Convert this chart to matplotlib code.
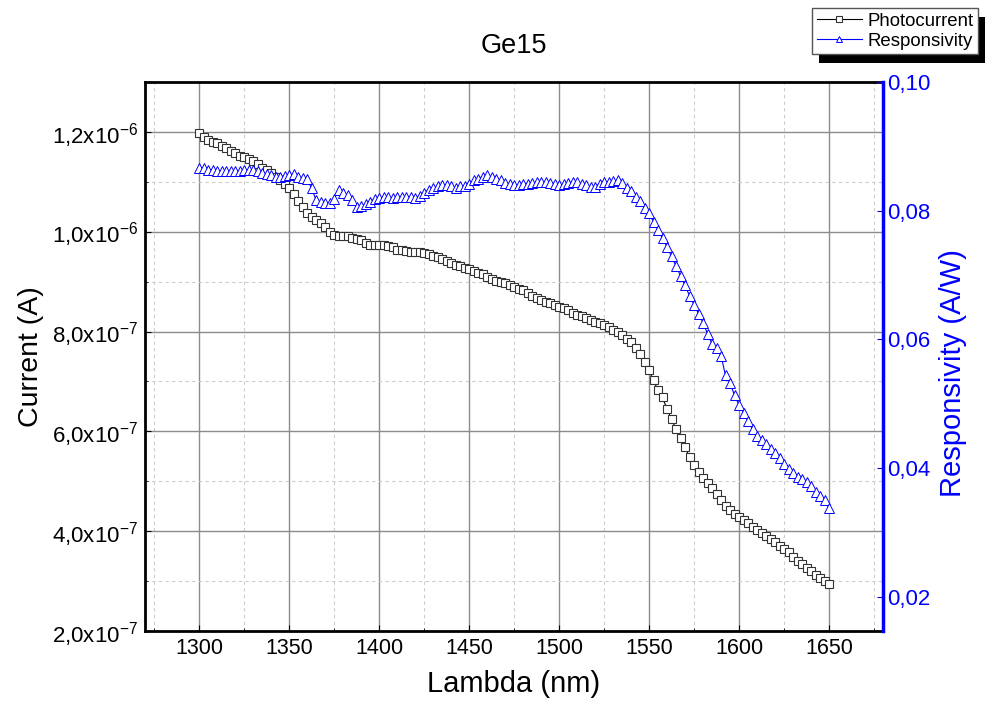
import numpy as np
import matplotlib
matplotlib.use("Agg")
import matplotlib.pyplot as plt
from matplotlib.ticker import MultipleLocator, FuncFormatter
from matplotlib.patches import Rectangle

plt.rcParams['font.family'] = ['Liberation Sans', 'DejaVu Sans']
plt.rcParams['mathtext.fontset'] = 'custom'
plt.rcParams['mathtext.rm'] = 'Liberation Sans'
plt.rcParams['mathtext.it'] = 'Liberation Sans:italic'

title = "Ge15"
xlabel = "Lambda (nm)"
ylabel_left = "Current (A)"
ylabel_right = "Responsivity (A/W)"
series_names = ["Photocurrent", "Responsivity"]

# wavelength grid (nm), 2.5 nm sampling
wavelength = np.arange(1300.0, 1650.0 + 1e-9, 2.5)

# photocurrent in units of 1e-7 A
photocurrent_e7 = [
    11.97, 11.89, 11.83, 11.80, 11.77, 11.72, 11.68, 11.61, 11.57, 11.51,
    11.49, 11.45, 11.41, 11.36, 11.28, 11.23, 11.18, 11.10, 11.03, 10.96,
    10.87, 10.76, 10.62, 10.49, 10.38, 10.29, 10.23, 10.17, 10.09, 9.99,
    9.93, 9.92, 9.92, 9.91, 9.88, 9.85, 9.83, 9.78, 9.74, 9.74,
    9.74, 9.74, 9.71, 9.69, 9.64, 9.63, 9.61, 9.60, 9.59, 9.59,
    9.58, 9.55, 9.52, 9.49, 9.46, 9.42, 9.38, 9.34, 9.31, 9.28,
    9.25, 9.22, 9.18, 9.15, 9.10, 9.05, 9.01, 8.99, 8.97, 8.93,
    8.90, 8.86, 8.83, 8.78, 8.72, 8.68, 8.64, 8.60, 8.57, 8.53,
    8.49, 8.47, 8.43, 8.38, 8.34, 8.31, 8.27, 8.23, 8.20, 8.17,
    8.13, 8.10, 8.04, 7.99, 7.93, 7.86, 7.79, 7.67, 7.56, 7.38,
    7.22, 7.02, 6.82, 6.68, 6.45, 6.24, 6.05, 5.87, 5.68, 5.49,
    5.33, 5.18, 5.07, 4.97, 4.86, 4.74, 4.63, 4.51, 4.42, 4.35,
    4.29, 4.23, 4.16, 4.09, 4.02, 3.96, 3.91, 3.85, 3.79, 3.71,
    3.64, 3.58, 3.48, 3.41, 3.34, 3.27, 3.20, 3.13, 3.07, 3.01,
    2.95,
]

# responsivity in A/W
responsivity = [
    0.0867, 0.0866, 0.0864, 0.0863, 0.0862, 0.0862, 0.0861, 0.0861, 0.0862, 0.0862,
    0.0863, 0.0864, 0.0863, 0.0861, 0.0859, 0.0857, 0.0856, 0.0853, 0.0853, 0.0854,
    0.0856, 0.0857, 0.0853, 0.0851, 0.0849, 0.0835, 0.0817, 0.0813, 0.0812, 0.0812,
    0.0818, 0.0832, 0.0828, 0.0824, 0.0816, 0.0806, 0.0807, 0.0810, 0.0814, 0.0818,
    0.0820, 0.0821, 0.0821, 0.0820, 0.0821, 0.0822, 0.0822, 0.0821, 0.0819, 0.0823,
    0.0828, 0.0832, 0.0835, 0.0838, 0.0840, 0.0840, 0.0838, 0.0836, 0.0838, 0.0838,
    0.0842, 0.0847, 0.0850, 0.0853, 0.0855, 0.0852, 0.0850, 0.0847, 0.0843, 0.0841,
    0.0840, 0.0840, 0.0841, 0.0842, 0.0843, 0.0844, 0.0845, 0.0844, 0.0843, 0.0842,
    0.0840, 0.0841, 0.0843, 0.0845, 0.0844, 0.0842, 0.0840, 0.0837, 0.0837, 0.0842,
    0.0844, 0.0845, 0.0846, 0.0847, 0.0843, 0.0835, 0.0830, 0.0822, 0.0815, 0.0805,
    0.0796, 0.0783, 0.0770, 0.0757, 0.0744, 0.0729, 0.0714, 0.0699, 0.0684, 0.0668,
    0.0654, 0.0640, 0.0626, 0.0609, 0.0593, 0.0586, 0.0575, 0.0544, 0.0533, 0.0513,
    0.0498, 0.0486, 0.0473, 0.0461, 0.0450, 0.0443, 0.0437, 0.0430, 0.0424, 0.0416,
    0.0407, 0.0399, 0.0393, 0.0386, 0.0383, 0.0379, 0.0372, 0.0363, 0.0357, 0.0350,
    0.0338,
]

x_ticks = [1300, 1350, 1400, 1450, 1500, 1550, 1600, 1650]
left_ticks = [2e-7, 4e-7, 6e-7, 8e-7, 1.0e-6, 1.2e-6]
right_ticks = [0.02, 0.04, 0.06, 0.08, 0.10]

photocurrent = np.array(photocurrent_e7) * 1e-7
n = min(len(wavelength), len(photocurrent), len(responsivity))

fig = plt.figure(figsize=(9.85, 7.01), dpi=100)
ax = fig.add_axes([145/985, 70/701, 738/985, 549/701])
ax2 = ax.twinx()

BLUE = '#0000ff'

l1, = ax.plot(wavelength[:n], photocurrent[:n], color='black', lw=0.8,
              marker='s', ms=5.5, mfc='white', mec='#333333', mew=0.8, zorder=3)
l2, = ax2.plot(wavelength[:n], np.array(responsivity)[:n], color=BLUE, lw=0.8,
               marker='^', ms=6.5, mfc='white', mec=BLUE, mew=0.7, zorder=3)

ax.set_xlim(1270, 1680)
ax.set_ylim(2e-7, 1.3e-6)
ax2.set_ylim(0.0147, 0.10)

ax.set_xticks(x_ticks)
ax.xaxis.set_minor_locator(MultipleLocator(25))
ax.set_yticks(left_ticks)
ax.yaxis.set_minor_locator(MultipleLocator(1e-7))
ax2.set_yticks(right_ticks)


def sci_fmt(v, pos):
    if v == 0:
        return "0"
    e = int(np.floor(np.log10(abs(v)) + 1e-9))
    m = v / 10**e
    return ("%.1f" % m).replace('.', ',') + "x10$^{%d}$" % e


ax.yaxis.set_major_formatter(FuncFormatter(sci_fmt))
ax2.yaxis.set_major_formatter(FuncFormatter(lambda v, p: ("%.2f" % v).replace('.', ',')))

ax.grid(which='major', color='#8c8c8c', lw=1.0, ls='-')
ax.grid(which='minor', color='#cccccc', lw=0.8, ls=(0, (3, 3)))
ax.set_axisbelow(True)

ax.tick_params(axis='both', which='major', direction='in', length=4, labelsize=16, pad=5)
ax.tick_params(axis='x', which='major', labelsize=15.5, pad=5)
ax.tick_params(axis='both', which='minor', direction='in', length=2)
ax2.tick_params(axis='y', which='major', direction='in', length=4, labelsize=16,
                colors=BLUE, pad=3)

for s in ['left', 'top', 'bottom']:
    ax.spines[s].set_linewidth(2)
    ax.spines[s].set_color('black')
ax2.spines['right'].set_linewidth(2.5)
ax2.spines['right'].set_color(BLUE)
for s in ['left', 'top', 'bottom']:
    ax2.spines[s].set_visible(False)
ax.spines['right'].set_visible(False)

ax.set_xlabel(xlabel, fontsize=21, labelpad=8)
ax.set_ylabel(ylabel_left, fontsize=20.5, labelpad=6)
ax2.set_ylabel(ylabel_right, fontsize=21, color=BLUE, labelpad=6)
ax2.yaxis.label.set_y(0.5 - 17/549)
ax.set_title(title, fontsize=19.5, pad=21)

leg = fig.legend([l1, l2], series_names, loc='upper right',
                 bbox_to_anchor=(978/985, 1 - 8/701), fontsize=13.4,
                 frameon=True, fancybox=False, edgecolor='#555555',
                 borderpad=0.25, labelspacing=0.15, handlelength=2.4,
                 handletextpad=0.3, borderaxespad=0)
leg.get_frame().set_linewidth(1.0)
for h in leg.legend_handles:
    h.set_markersize(5)

fig.canvas.draw()
bb = leg.get_window_extent().transformed(fig.transFigure.inverted())
shadow = Rectangle((bb.x0 + 7/985, bb.y0 - 8.5/701), bb.width, bb.height,
                   transform=fig.transFigure, facecolor='black',
                   edgecolor='none', zorder=leg.get_zorder() - 1)
fig.patches.append(shadow)
leg.get_frame().set_facecolor('white')
leg.get_frame().set_alpha(1)

fig.savefig('out.png', dpi=100)
